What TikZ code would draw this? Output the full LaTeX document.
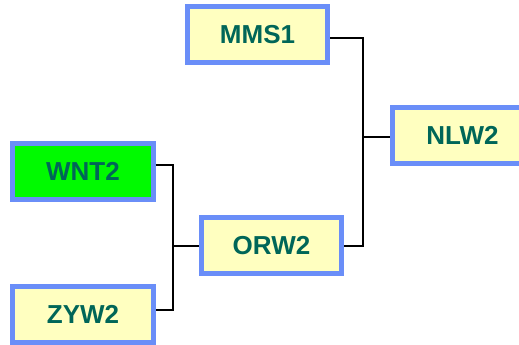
\documentclass[tikz,border=0pt]{standalone}
\usepackage{fontspec}
\setmainfont{Liberation Sans}
\definecolor{bordc}{RGB}{106,142,248}
\definecolor{fillc}{RGB}{255,255,192}
\definecolor{txtc}{RGB}{0,102,88}
\definecolor{grn}{RGB}{0,250,0}
\tikzset{
  team/.style={draw=bordc, line width=5bp, fill=fillc, rectangle,
    minimum width=140bp, minimum height=56bp, inner sep=0pt,
    font=\fontsize{26bp}{28bp}\selectfont\bfseries, text=txtc},
  link/.style={draw=black, line width=2bp}
}
\begin{document}
\begin{tikzpicture}[x=1bp,y=-1bp]
\useasboundingbox (0,0) rectangle (519,344);
\fill[white] (0,0) rectangle (519,344);
\node[team] (MMS1) at (257.5,34.5) {MMS1};
\node[team] (NLW2) at (462.5,135) {NLW2};
\node[team] (ORW2) at (271.5,245.5) {ORW2};
\node[team, fill=grn] (WNT2) at (83,171.5) {WNT2};
\node[team] (ZYW2) at (83,314.5) {ZYW2};
\coordinate (j1) at (173,245.5);
\coordinate (j2) at (363,137);
\draw[link] ([yshift=6.5bp]WNT2.east) -| (j1) |- ([yshift=4.5bp]ZYW2.east);
\draw[link] (j1) -- (ORW2.west);
\draw[link] ([yshift=-3.5bp]MMS1.east) -| (j2) |- (ORW2.east);
\draw[link] (j2) -- (NLW2.west |- j2);
\end{tikzpicture}
\end{document}
